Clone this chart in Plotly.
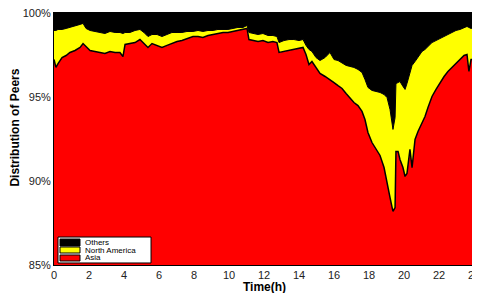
import plotly.graph_objects as go

hours = [0.00, 0.11, 0.23, 0.46, 0.69, 0.91, 1.20, 1.49, 1.66, 1.83, 2.06, 2.34, 2.63, 2.91, 3.20, 3.49,
         3.77, 3.94, 4.06, 4.34, 4.63, 4.91, 5.14, 5.37, 5.60, 5.89, 6.17, 6.46, 6.74, 7.03, 7.31, 7.60,
         7.94, 8.23, 8.51, 8.80, 9.09, 9.37, 9.66, 9.94, 10.23, 10.51, 10.80, 11.03, 11.14, 11.37, 11.66,
         11.94, 12.23, 12.51, 12.74, 12.86, 13.14, 13.43, 13.71, 14.00, 14.23, 14.40, 14.57, 14.74, 14.97,
         15.20, 15.49, 15.77, 16.00, 16.23, 16.46, 16.69, 16.91, 17.14, 17.37, 17.60, 17.77, 17.94, 18.17,
         18.40, 18.63, 18.86, 19.03, 19.20, 19.31, 19.37, 19.49, 19.54, 19.66, 19.77, 19.94, 20.06, 20.17,
         20.34, 20.46, 20.63, 20.80, 21.03, 21.20, 21.37, 21.60, 21.83, 22.06, 22.29, 22.51, 22.74, 22.97,
         23.20, 23.43, 23.60, 23.71, 23.83, 24.00]

asia = [97.23, 96.76, 96.99, 97.35, 97.47, 97.65, 97.77, 97.95, 98.18, 98.01, 97.77, 97.71, 97.65, 97.59,
        97.71, 97.65, 97.65, 97.41, 98.13, 98.18, 98.24, 98.42, 98.18, 97.95, 98.18, 98.07, 97.95, 98.07,
        98.18, 98.30, 98.36, 98.48, 98.60, 98.60, 98.54, 98.66, 98.72, 98.78, 98.84, 98.84, 98.90, 98.96,
        99.02, 99.08, 98.42, 98.36, 98.30, 98.36, 98.24, 98.30, 98.24, 97.65, 97.71, 97.77, 97.83, 97.89,
        97.95, 97.53, 96.93, 97.11, 96.76, 96.40, 96.22, 96.04, 95.86, 95.68, 95.51, 95.21, 94.91, 94.67,
        94.49, 94.14, 93.66, 92.89, 92.29, 91.88, 91.52, 90.80, 89.79, 89.02, 88.48, 88.19, 88.42, 91.76,
        91.76, 91.28, 90.80, 90.27, 90.45, 91.88, 90.80, 92.47, 92.95, 93.42, 93.84, 94.38, 95.03, 95.45,
        95.86, 96.22, 96.52, 96.76, 96.99, 97.29, 97.47, 97.53, 96.52, 97.23, 97.23]

north_america = [1.73, 2.20, 2.03, 1.67, 1.61, 1.49, 1.43, 1.37, 1.20, 1.07, 1.19, 1.19, 1.19, 1.19, 1.19,
                 1.19, 1.19, 1.37, 0.71, 0.66, 0.72, 0.60, 0.66, 0.65, 0.54, 0.65, 0.65, 0.65, 0.66, 0.54,
                 0.48, 0.42, 0.30, 0.36, 0.36, 0.30, 0.24, 0.24, 0.18, 0.18, 0.18, 0.18, 0.12, 0.18, 0.42,
                 0.42, 0.42, 0.42, 0.42, 0.36, 0.36, 0.59, 0.65, 0.65, 0.59, 0.47, 0.47, 0.54, 0.90, 0.60,
                 0.59, 0.77, 1.13, 1.61, 1.37, 1.49, 1.54, 1.67, 1.91, 2.09, 2.15, 2.32, 2.38, 2.68, 3.10,
                 3.45, 3.75, 4.35, 5.18, 5.24, 4.88, 4.88, 5.36, 4.04, 4.10, 4.64, 4.83, 5.18, 5.35, 4.64,
                 6.08, 4.64, 4.40, 4.29, 3.99, 3.63, 3.21, 2.91, 2.62, 2.38, 2.20, 2.08, 1.97, 1.73, 1.67,
                 1.67, 2.62, 1.85, 1.91]

asia_na = [a + n for a, n in zip(asia, north_america)]
total = [100.0 for _ in hours]

x_ticks = [0, 2, 4, 6, 8, 10, 12, 14, 16, 18, 20, 22, 24]
y_ticks = [85, 90, 95, 100]
y_tick_labels = ["85%", "90%", "95%", "100%"]
legend_names = ["Others", "North America", "Asia"]
legend_colors = ["#000000", "#ffff00", "#ff0000"]

fig = go.Figure()
fig.add_trace(go.Scatter(x=hours, y=asia, name="Asia", mode="lines",
                         line=dict(color="black", width=1.5), fill="tozeroy",
                         fillcolor="#ff0000"))
fig.add_trace(go.Scatter(x=hours, y=asia_na, name="North America", mode="lines",
                         line=dict(color="black", width=1), fill="tonexty",
                         fillcolor="#ffff00"))
fig.add_trace(go.Scatter(x=hours, y=total, name="Others", mode="lines",
                         line=dict(color="black", width=0.5), fill="tonexty",
                         fillcolor="#000000"))

# manual legend box (paper coordinates)
shapes = [dict(type="rect", xref="paper", yref="paper", x0=0.0095, x1=0.231, y0=0.008, y1=0.111,
               fillcolor="white", line=dict(color="black", width=1))]
sw_y = [(0.0754, 0.103), (0.0476, 0.0714), (0.0159, 0.0397)]
annotations = []
for (y0, y1), name, col in zip(sw_y, legend_names, legend_colors):
    shapes.append(dict(type="rect", xref="paper", yref="paper", x0=0.0143, x1=0.0619, y0=y0, y1=y1,
                       fillcolor=col, line=dict(color="black", width=1)))
    annotations.append(dict(xref="paper", yref="paper", x=0.0714, y=(y0 + y1) / 2, text=name,
                            showarrow=False, xanchor="left", yanchor="middle", borderpad=0,
                            font=dict(size=8, color="black")))

annotations.append(dict(xref="paper", yref="paper", x=0.5, y=-0.087, text="<b>Time(h)</b>",
                        showarrow=False, xanchor="center", yanchor="middle", borderpad=0,
                        font=dict(size=12, color="black")))
annotations.append(dict(xref="paper", yref="paper", x=-0.093, y=0.545, text="<b>Distribution of Peers</b>",
                        showarrow=False, xanchor="center", yanchor="middle", textangle=-90,
                        font=dict(size=12, color="black")))

fig.update_layout(
    width=480, height=293,
    margin=dict(l=46, r=14, t=5, b=36, autoexpand=False),
    paper_bgcolor="white", plot_bgcolor="white",
    font=dict(family="Liberation Sans, Arial, sans-serif", size=11, color="#222222"),
    showlegend=False,
    shapes=shapes,
    annotations=annotations,
)
fig.update_xaxes(range=[0, 24], tickvals=x_ticks, ticks="", showgrid=False, zeroline=False,
                 showline=True, linecolor="black", linewidth=1, mirror=True, automargin=False,
                 ticklabeloverflow="allow")
fig.update_yaxes(range=[85, 100], tickvals=y_ticks, ticktext=y_tick_labels, ticks="",
                 showgrid=False, zeroline=False, automargin=False, ticklabeloverflow="allow",
                 showline=True, linecolor="black", linewidth=1, mirror=True)

fig.write_html("out.html")
